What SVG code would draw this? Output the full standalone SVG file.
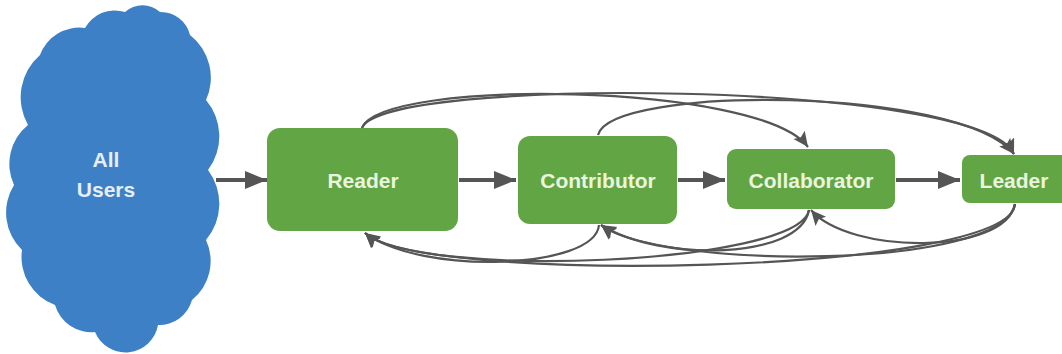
<svg xmlns="http://www.w3.org/2000/svg" width="1062" height="354" viewBox="0 0 1062 354">
<style>
.node rect{fill:#62a545;}
.node text{font-family:"Liberation Sans",Arial,sans-serif;font-weight:bold;font-size:21px;fill:#e9f6dd;text-anchor:middle;}
.cloud text{font-family:"Liberation Sans",Arial,sans-serif;font-weight:bold;font-size:21px;fill:#e6eefa;text-anchor:middle;}
.straight{stroke:#555;stroke-width:4;fill:none;marker-end:url(#big);}
.curve{stroke:#555;stroke-width:2.2;fill:none;marker-end:url(#small);}
</style>
<defs>
<marker id="big" markerUnits="userSpaceOnUse" markerWidth="24" markerHeight="20" refX="22" refY="9" orient="auto">
<path d="M0,0 L22,9 L0,18 Z" fill="#555"/>
</marker>
<marker id="small" markerUnits="userSpaceOnUse" markerWidth="18" markerHeight="16" refX="15" refY="7" orient="auto">
<path d="M0,0 L15,7 L0,14 L3,7 Z" fill="#555"/>
</marker>
</defs>
<rect width="1062" height="354" fill="#ffffff"/>
<g id="all-users" class="cloud">
<path fill="#3d80c5" d="M28,125 A56,56 0 0 1 40,55 A42,42 0 0 1 85,28 A34,34 0 0 1 125,12 A26,26 0 0 1 160,12 A30,30 0 0 1 190,35 A54,54 0 0 1 206,100 A56,56 0 0 1 208,170 A56,56 0 0 1 206,240 A50,50 0 0 1 192,300 A34,34 0 0 1 158,325 A33,33 0 0 1 95,332 A38,38 0 0 1 55,305 A51,51 0 0 1 22,250 A52,52 0 0 1 14,185 A50,50 0 0 1 28,125 Z"/>
<text x="106" y="167">All</text>
<text x="106" y="197">Users</text>
</g>
<g id="reader" class="node">
<rect x="267" y="128" width="191" height="103" rx="13"/>
<text x="363" y="187.5">Reader</text>
</g>
<g id="contributor" class="node">
<rect x="518" y="136" width="159" height="88" rx="12"/>
<text x="598" y="187.5">Contributor</text>
</g>
<g id="collaborator" class="node">
<rect x="727" y="149" width="168" height="60" rx="9"/>
<text x="811" y="187.5">Collaborator</text>
</g>
<g id="leader" class="node">
<rect x="962" y="155" width="110" height="48" rx="8"/>
<text x="1014" y="187.5">Leader</text>
</g>
<g id="connectors">
<path class="straight" d="M216,180 H267"/>
<path class="straight" d="M459,180 H516"/>
<path class="straight" d="M678,180 H725"/>
<path class="straight" d="M896,180 H960"/>
<path class="curve" d="M362,128 C380,76 980,80 1014,154"/>
<path class="curve" d="M362,128 C380,78 760,82 808,147"/>
<path class="curve" d="M598,135 C610,85 960,86 1014,154"/>
<path class="curve" d="M1015,204 C1010,275 420,285 365,233"/>
<path class="curve" d="M809,210 C800,265 420,280 365,233"/>
<path class="curve" d="M599,225 C595,270 420,275 365,233"/>
<path class="curve" d="M1015,204 C1005,270 660,270 601,225"/>
<path class="curve" d="M809,210 C800,260 660,262 601,225"/>
<path class="curve" d="M1015,204 C1005,255 850,255 811,210"/>
</g>
</svg>
